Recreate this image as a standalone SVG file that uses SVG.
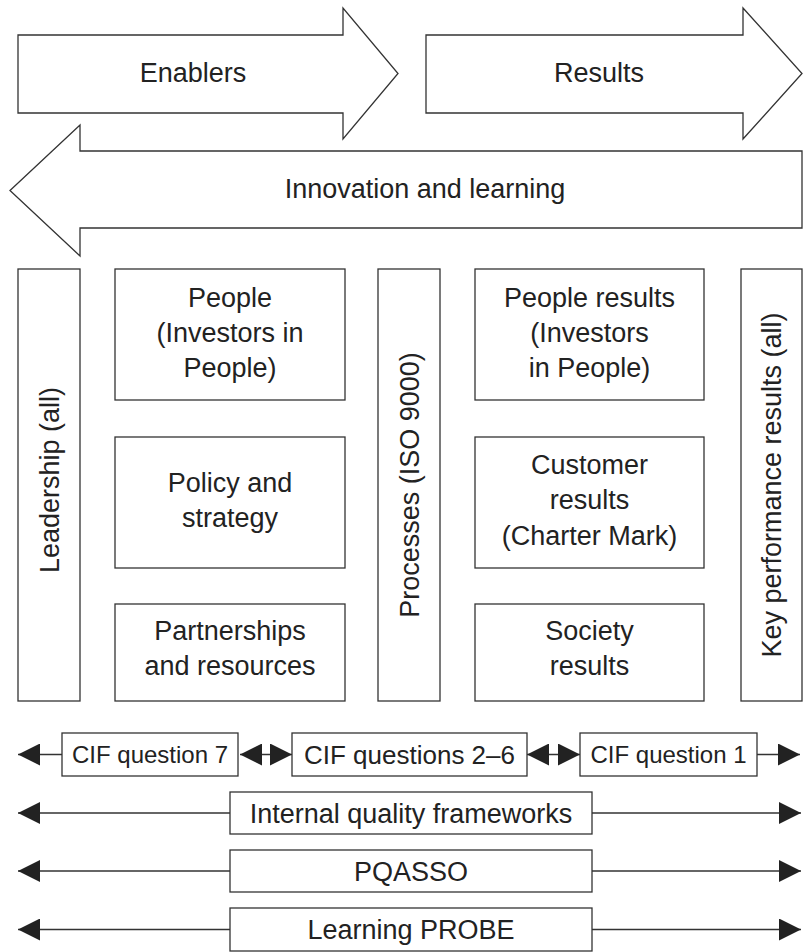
<svg xmlns="http://www.w3.org/2000/svg" width="803" height="952" viewBox="0 0 803 952">
<style>
.s{fill:#fff;stroke:#333;stroke-width:1.3}
.t{font-family:"Liberation Sans",Arial,sans-serif;font-size:27px;fill:#222;text-anchor:middle}
.cif{font-size:24px}
.c{stroke:#333;stroke-width:1.3;fill:none}
</style>
<defs>
<marker id="ah" viewBox="0 0 22 22" refX="22" refY="11" markerWidth="22" markerHeight="22" markerUnits="userSpaceOnUse" orient="auto-start-reverse">
<path d="M0,0 L22,11 L0,22 Z" fill="#222"/>
</marker>
</defs>
<rect width="803" height="952" fill="#fff"/>
<g id="enablers">
<polygon class="s" points="18,35 343,35 343,8 398,73.5 343,139 343,113 18,113"/>
<text class="t" x="193" y="82">Enablers</text>
</g>
<g id="results">
<polygon class="s" points="426,35 743,35 743,8 802,73.5 743,139 743,113 426,113"/>
<text class="t" x="599" y="82">Results</text>
</g>
<g id="innovation">
<polygon class="s" points="10,190.5 80,125 80,151 802,151 802,228 80,228 80,256"/>
<text class="t" x="425" y="198">Innovation and learning</text>
</g>
<g id="leadership">
<rect class="s" x="18" y="269" width="62" height="432"/>
<text class="t" transform="translate(49,480) rotate(-90)" y="9.5">Leadership (all)</text>
</g>
<g id="people">
<rect class="s" x="115" y="269" width="230" height="131"/>
<text class="t" x="230" y="307">People</text>
<text class="t" x="230" y="342">(Investors in</text>
<text class="t" x="230" y="377">People)</text>
</g>
<g id="policy">
<rect class="s" x="115" y="437" width="230" height="131"/>
<text class="t" x="230" y="492">Policy and</text>
<text class="t" x="230" y="527">strategy</text>
</g>
<g id="partnerships">
<rect class="s" x="115" y="604" width="230" height="97"/>
<text class="t" x="230" y="640">Partnerships</text>
<text class="t" x="230" y="675">and resources</text>
</g>
<g id="processes">
<rect class="s" x="378" y="269" width="62" height="432"/>
<text class="t" transform="translate(409,485) rotate(-90)" y="9.5">Processes (ISO 9000)</text>
</g>
<g id="people-results">
<rect class="s" x="475" y="269" width="229" height="131"/>
<text class="t" x="589.5" y="307">People results</text>
<text class="t" x="589.5" y="342">(Investors</text>
<text class="t" x="589.5" y="377">in People)</text>
</g>
<g id="customer-results">
<rect class="s" x="475" y="437" width="229" height="131"/>
<text class="t" x="589.5" y="474">Customer</text>
<text class="t" x="589.5" y="509">results</text>
<text class="t" x="589.5" y="545">(Charter Mark)</text>
</g>
<g id="society-results">
<rect class="s" x="475" y="604" width="229" height="97"/>
<text class="t" x="589.5" y="640">Society</text>
<text class="t" x="589.5" y="675">results</text>
</g>
<g id="kpr">
<rect class="s" x="741" y="269" width="61" height="432"/>
<text class="t" transform="translate(771.5,485) rotate(-90)" y="9.5">Key performance results (all)</text>
</g>
<g id="connectors">
<path class="c" d="M62,754.5 L18,754.5" marker-end="url(#ah)"/>
<path class="c" d="M240,754.5 L292,754.5" marker-start="url(#ah)" marker-end="url(#ah)"/>
<path class="c" d="M527,754.5 L580,754.5" marker-start="url(#ah)" marker-end="url(#ah)"/>
<path class="c" d="M757,754.5 L800,754.5" marker-end="url(#ah)"/>
<path class="c" d="M230,813 L18,813" marker-end="url(#ah)"/>
<path class="c" d="M592,813 L801,813" marker-end="url(#ah)"/>
<path class="c" d="M230,871 L18,871" marker-end="url(#ah)"/>
<path class="c" d="M592,871 L801,871" marker-end="url(#ah)"/>
<path class="c" d="M230,929.5 L18,929.5" marker-end="url(#ah)"/>
<path class="c" d="M592,929.5 L801,929.5" marker-end="url(#ah)"/>
</g>
<g id="cif7">
<rect class="s" x="62" y="733" width="176" height="43"/>
<text class="t cif" x="150" y="763">CIF question 7</text>
</g>
<g id="cif26">
<rect class="s" x="292" y="733" width="235" height="43"/>
<text class="t" x="409.5" y="763.5" style="font-size:26px">CIF questions 2–6</text>
</g>
<g id="cif1">
<rect class="s" x="580" y="733" width="177" height="43"/>
<text class="t cif" x="668.5" y="763">CIF question 1</text>
</g>
<g id="iqf">
<rect class="s" x="230" y="792" width="362" height="42"/>
<text class="t" x="411" y="822.5">Internal quality frameworks</text>
</g>
<g id="pqasso">
<rect class="s" x="230" y="850" width="362" height="42"/>
<text class="t" x="411" y="880.5">PQASSO</text>
</g>
<g id="probe">
<rect class="s" x="230" y="908" width="362" height="43"/>
<text class="t" x="411" y="939">Learning PROBE</text>
</g>
</svg>
